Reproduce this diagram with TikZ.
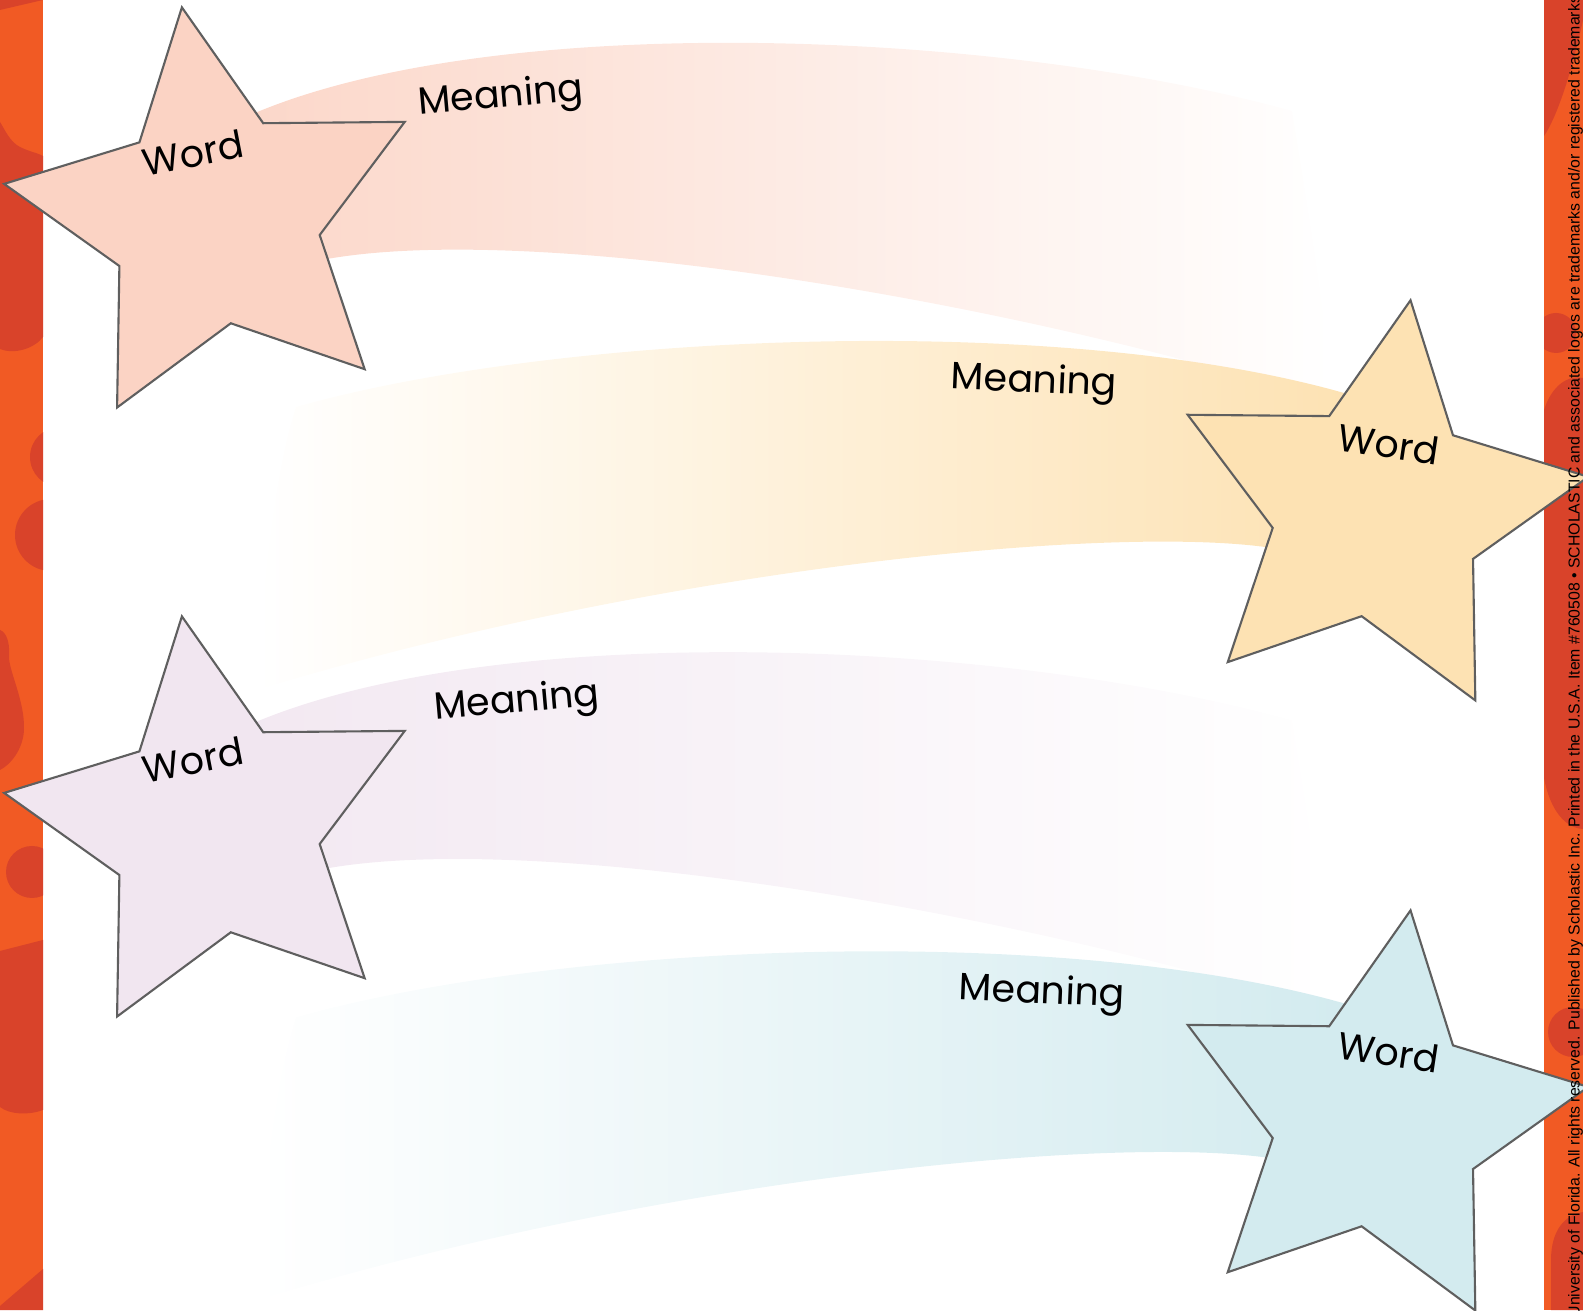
\documentclass[tikz,border=0pt]{standalone}
\usepackage{fontspec}
\setmainfont{Poppins}
\newfontfamily\creditfont{Liberation Sans}
\usetikzlibrary{shapes.geometric}
\definecolor{stripfill}{HTML}{F15A24}
\definecolor{stripdark}{HTML}{D9432A}
\definecolor{starline}{HTML}{5F5F5F}
\definecolor{starpink}{HTML}{FBD3C4}
\definecolor{staryellow}{HTML}{FDE2B3}
\definecolor{starlilac}{HTML}{F1E6F0}
\definecolor{starblue}{HTML}{D3EBEF}
\tikzset{
  wordstar/.style={star, star points=5, star point ratio=2, minimum size=4.26cm,
    inner sep=0pt, draw=starline, line width=0.6pt},
  wordlabel/.style={font=\fontsize{10.8}{13}\selectfont, inner sep=0pt},
  credit/.style={font=\creditfont\fontsize{4.5}{5}\selectfont, inner sep=0pt}
}
\begin{document}
\begin{tikzpicture}[x=0.01cm,y=0.01cm]
\useasboundingbox (0,0) rectangle (1583,1310);
\clip (0,0) rectangle (1583,1310);
%left border
\fill[stripfill] (0,0) rectangle (43,1310);
\begin{scope}
\clip (0,0) rectangle (43,1310);
\fill[stripdark] (0,1310) -- (43,1310) -- (0,1300) -- cycle;
\fill[stripdark] (0,1188) .. controls (5,1180) and (10,1168) .. (20,1163) .. controls (30,1158) and (38,1157) .. (43,1154) -- (43,973) .. controls (35,962) and (15,955) .. (0,961) -- cycle;
\fill[stripdark] (60,853) circle (30);
\fill[stripdark] (51,775) circle (36);
\fill[stripdark] (0,680) .. controls (6,678) and (10,668) .. (9,655) .. controls (8,640) and (25,610) .. (24,580) .. controls (23,560) and (10,545) .. (0,540) -- cycle;
\fill[stripdark] (32,438) circle (26);
\fill[stripdark] (0,359) -- (43,370) -- (43,200) .. controls (30,195) and (10,195) .. (0,203) -- cycle;
\fill[stripdark] (0,0) -- (0,4) -- (43,41) -- (43,0) -- cycle;
\end{scope}
%right border
\fill[stripfill] (1544,0) rectangle (1583,1310);
\begin{scope}
\clip (1544,0) rectangle (1583,1310);
\fill[stripdark] (1544,1310) -- (1583,1310) -- (1583,1290) .. controls (1570,1230) and (1555,1190) .. (1544,1174) -- cycle;
\fill[stripdark] (1556,977) circle (20);
\fill[stripdark] (1544,900) .. controls (1552,925) and (1568,935) .. (1583,932) -- (1583,481) .. controls (1565,482) and (1550,500) .. (1544,532) -- cycle;
\fill[stripdark] (1573,278) circle (25);
\fill[stripdark] (1583,98) .. controls (1565,95) and (1551,80) .. (1551,50) -- (1551,0) -- (1583,0) -- cycle;
\end{scope}
%tails
\shade[left color=starpink!92!white, right color=white] (255,1197) .. controls (500,1300) and (1000,1280) .. (1292,1199) .. controls (1305,1120) and (1325,1000) .. (1333,906) .. controls (1050,1000) and (550,1090) .. (327,1051) -- (232,1108) -- cycle;
\shade[left color=white, right color=staryellow] (296,903) .. controls (550,975) and (1050,1000) .. (1344,917) -- (1353,835) -- (1265,763) .. controls (1100,785) and (650,740) .. (257,620) .. controls (262,720) and (275,840) .. (296,903) -- cycle;
\begin{scope}[yshift=-6.09cm]
\shade[left color=starlilac!92!white, right color=white] (255,1197) .. controls (500,1300) and (1000,1280) .. (1292,1199) .. controls (1305,1120) and (1325,1000) .. (1333,906) .. controls (1050,1000) and (550,1090) .. (327,1051) -- (232,1108) -- cycle;
\end{scope}
\begin{scope}[yshift=-6.10cm]
\shade[left color=white, right color=starblue] (296,903) .. controls (550,975) and (1050,1000) .. (1344,917) -- (1353,835) -- (1265,763) .. controls (1100,785) and (650,740) .. (257,620) .. controls (262,720) and (275,840) .. (296,903) -- cycle;
\end{scope}
%stars
\node[wordstar, fill=starpink, rotate=8.8] (s1) at (214.5,1092) {};
\node[wordstar, fill=staryellow, rotate=-8.8] (s2) at (1377.9,799.1) {};
\node[wordstar, fill=starlilac, rotate=8.8] (s3) at (214.5,483) {};
\node[wordstar, fill=starblue, rotate=-8.8] (s4) at (1377.9,189) {};
%labels
\node[wordlabel, rotate=11] (w1) at (193,1157) {Word};
\node[wordlabel, rotate=-8.5] (w2) at (1389,866) {Word};
\node[wordlabel, rotate=11] (w3) at (193,550) {Word};
\node[wordlabel, rotate=-8.5] (w4) at (1389,258) {Word};
\node[wordlabel, rotate=5] (m1) at (501,1212) {Meaning};
\node[wordlabel, rotate=-2.5] (m2) at (1034,927) {Meaning};
\node[wordlabel, rotate=5] (m3) at (517,607) {Meaning};
\node[wordlabel, rotate=-2.5] (m4) at (1042,316) {Meaning};
%credit line
\node[credit, rotate=90, anchor=base west] (note) at (1579.5,-8) {University of Florida. All rights reserved. Published by Scholastic Inc. Printed in the U.S.A. Item \#760508 • SCHOLASTIC and associated logos are trademarks and/or registered trademarks of Scholastic Inc.};
\end{tikzpicture}
\end{document}
